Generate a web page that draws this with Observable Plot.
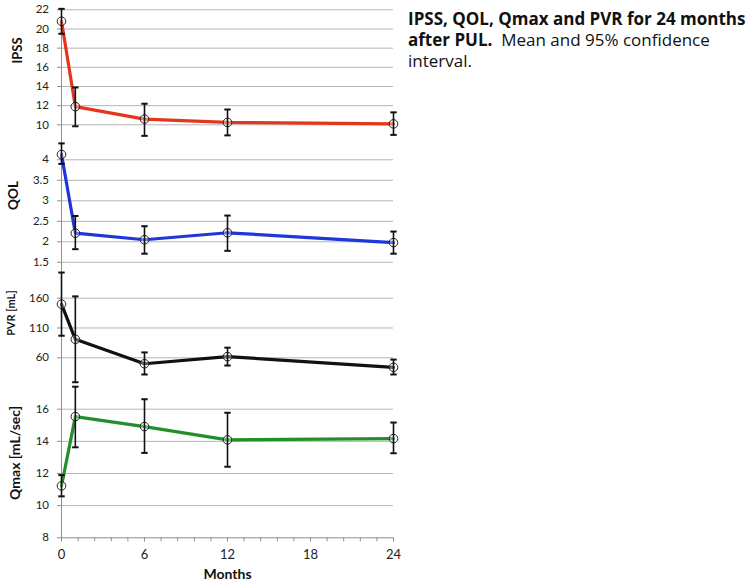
<!DOCTYPE html>
<html>
<head>
<meta charset="utf-8">
<script src="https://cdn.jsdelivr.net/npm/d3@7"></script>
<script src="https://cdn.jsdelivr.net/npm/@observablehq/plot@0.6"></script>
<style>
  html, body { margin: 0; padding: 0; background: #fff; }
  #wrap { position: relative; width: 752px; height: 583px; overflow: hidden; font-family: Lato, "Open Sans", sans-serif; }
  #wrap svg { position: absolute; left: 0; }
  #title { position: absolute; left: 408px; top: 8px; width: 344px; font-family: "Open Sans", Lato, sans-serif; font-size: 17px; line-height: 21px; color: #111; white-space: nowrap; }
  #title b { font-weight: 700; }
</style>
</head>
<body>
<div id="wrap">
  <div id="title"><b>IPSS, QOL, Qmax and PVR for 24 months<br>after PUL.</b>&nbsp; Mean and 95% confidence<br>interval.</div>
</div>
<script>
// ---- Data ----
const months = [0, 1, 6, 12, 24];

const ipss   = [20.8, 11.9, 10.6, 10.25, 10.1];
const ipssLo = [19.5, 9.85, 8.85, 8.9, 8.95];
const ipssHi = [22.1, 13.9, 12.2, 11.6, 11.3];

const qol   = [4.13, 2.21, 2.05, 2.22, 1.98];
const qolLo = [3.9, 1.82, 1.71, 1.78, 1.71];
const qolHi = [4.4, 2.63, 2.38, 2.64, 2.25];

const pvr   = [150, 91, 50, 62, 44];
const pvrLo = [97, 19, 32, 47, 32];
const pvrHi = [203, 163, 69, 77, 57];

const qmax   = [11.23, 15.54, 14.92, 14.09, 14.17];
const qmaxLo = [10.58, 13.63, 13.28, 12.42, 13.26];
const qmaxHi = [11.9, 17.4, 16.62, 15.78, 15.17];

const ipssTicks = [10, 12, 14, 16, 18, 20, 22];
const qolTicks  = [1.5, 2, 2.5, 3, 3.5, 4];
const pvrTicks  = [60, 110, 160];
const qmaxTicks = [8, 10, 12, 14, 16];
const monthTicks = [0, 6, 12, 18, 24];
const minorMonthTicks = [0, 1.2, 2.4, 3.6, 4.8, 6, 7.2, 8.4, 9.6, 10.8, 12, 13.2, 14.4, 15.6, 16.8, 18, 19.2, 20.4, 21.6, 22.8, 24];

function rows(v, lo, hi) {
  return months.map((m, i) => ({m, v: v[i], lo: lo[i], hi: hi[i]}));
}

// horizontal cap symbol for error bars
const cap = {
  draw(context) {
    context.moveTo(-3.2, 0);
    context.lineTo(3.2, 0);
  }
};

const gridColor = "#b5b5b5";
const axisColor = "#8f8f8f";

function panel(o) {
  const data = rows(o.v, o.lo, o.hi);
  const marks = [
    Plot.ruleY(o.ticks.filter(t => t !== o.axisLineAt), {stroke: gridColor, strokeWidth: 1}),
    o.axisLineAt != null ? Plot.ruleY([o.axisLineAt], {stroke: axisColor, strokeWidth: 1}) : null,
    Plot.axisY(o.ticks, {tickSize: 4, tickPadding: 8.5, stroke: axisColor, label: null, fontSize: 11.5, tickFormat: d => String(d)}),
    Plot.ruleX([0], {stroke: axisColor, strokeWidth: 1}),
    Plot.line(data, {x: "m", y: "v", stroke: o.color, strokeWidth: 3.2, strokeLinejoin: "round"}),
    Plot.dot(data, {x: "m", y: "v", r: 4.3, stroke: "#222", strokeWidth: 1, fill: "white", fillOpacity: 0.35}),
    Plot.ruleX(data, {x: "m", y1: "lo", y2: "hi", stroke: "#111", strokeWidth: 1.6}),
    Plot.dot(data, {x: "m", y: "hi", symbol: cap, stroke: "#111", strokeWidth: 2}),
    Plot.dot(data, {x: "m", y: "lo", symbol: cap, stroke: "#111", strokeWidth: 2}),
    Plot.text([o.label], {y: [o.labelY], frameAnchor: "left", textAnchor: "middle", lineAnchor: "middle", rotate: -90, dx: o.labelDx, fontWeight: "bold", fontSize: o.labelSize, fill: "#111"})
  ];
  if (o.xAxis) {
    marks.push(
      Plot.axisX(minorMonthTicks, {tickSize: 4, tickFormat: () => "", stroke: axisColor, label: null}),
      Plot.axisX(monthTicks, {tickSize: 4, tickPadding: 8, stroke: axisColor, label: null, fontSize: 13, tickFormat: d => String(d)}),
      Plot.text(["Months"], {x: [12], frameAnchor: "bottom", lineAnchor: "bottom", dy: 41.5, fontWeight: "bold", fontSize: 14, fill: "#111"})
    );
  }
  const svg = Plot.plot({
    width: 400,
    height: o.height,
    marginLeft: 61,
    marginRight: 7,
    marginTop: o.mt,
    marginBottom: o.mb,
    x: {domain: [0, 24], axis: null},
    y: {domain: o.domain},
    style: {fontFamily: "Lato, 'Open Sans', sans-serif", fontSize: "11.5px", color: "#222", background: "transparent", overflow: "visible"},
    marks: marks.filter(Boolean)
  });
  svg.style.top = o.top + "px";
  document.getElementById("wrap").appendChild(svg);
}

panel({v: ipss, lo: ipssLo, hi: ipssHi, color: "#e4361d", domain: [8, 22], ticks: ipssTicks,
  top: 0, height: 150, mt: 9.3, mb: 6.5, label: "IPSS", labelY: 17.75, labelDx: -44, labelSize: 13});

panel({v: qol, lo: qolLo, hi: qolHi, color: "#1f36d8", domain: [1.5, 4.4], ticks: qolTicks,
  top: 130, height: 140, mt: 12.9, mb: 8.2, label: "QOL", labelY: 3.13, labelDx: -48, labelSize: 13.5});

panel({v: pvr, lo: pvrLo, hi: pvrHi, color: "#111111", domain: [10, 220], ticks: pvrTicks,
  top: 250, height: 150, mt: 11.9, mb: 12.9, label: "PVR [mL]", labelY: 135, labelDx: -50, labelSize: 11});

panel({v: qmax, lo: qmaxLo, hi: qmaxHi, color: "#22902a", domain: [8, 17.35], ticks: qmaxTicks, axisLineAt: 8,
  top: 370, height: 213, mt: 17, mb: 45.7, label: "Qmax [mL/sec]", labelY: 13.28, labelDx: -46, labelSize: 14, xAxis: true});
</script>
</body>
</html>
